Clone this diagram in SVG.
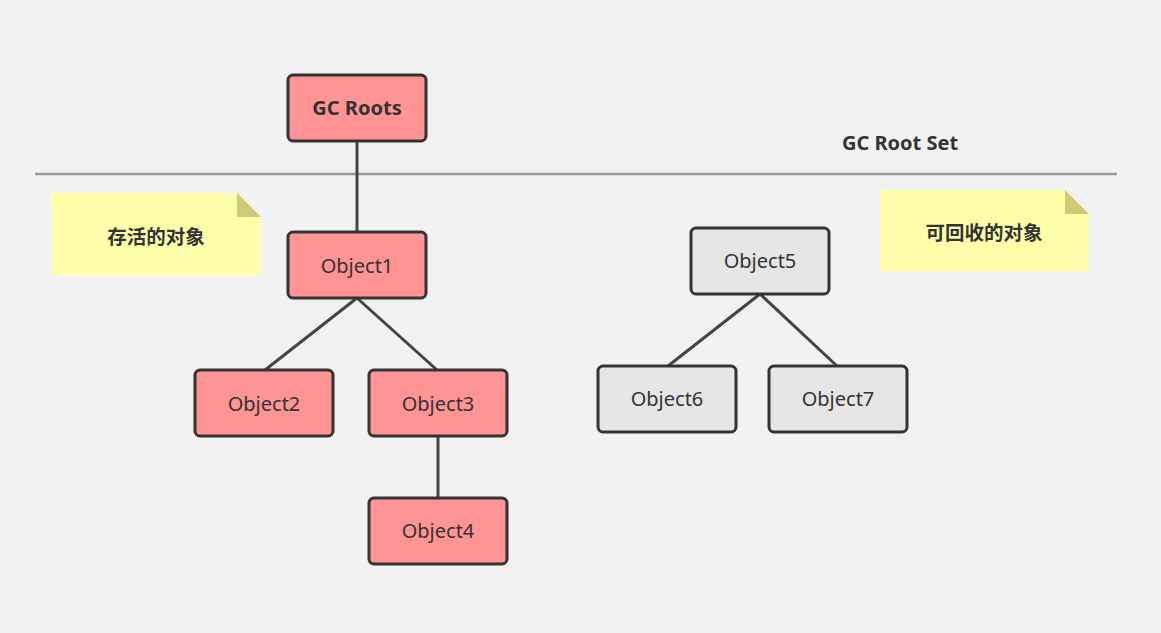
<svg xmlns="http://www.w3.org/2000/svg" width="1161" height="633" viewBox="0 0 1161 633">
<style>
.bg{fill:#f2f2f2}
.n rect{stroke:#333;stroke-width:3}
.live rect{fill:#ff9494}
.dead rect{fill:#e6e6e6}
.t{font-family:"Noto Sans","Noto Sans CJK SC",sans-serif;font-size:20px;fill:#333;text-anchor:middle;dominant-baseline:central}
.b{font-weight:bold}
.cjk{font-size:19.5px}
.note{fill:#ffffaa}
.fold{fill:#cccc77}
.c line{stroke:#444;stroke-width:3}
</style>
<rect class="bg" x="0" y="0" width="1161" height="633"/>
<line x1="35" y1="174" x2="1117" y2="174" stroke="#999" stroke-width="2.5"/>
<text class="t b" x="900" y="142">GC Root Set</text>
<g id="note1">
<polygon class="note" points="52,193 237,193 261,217 261,275 52,275"/>
<polygon class="fold" points="237,193 261,217 237,217"/>
<text class="t b cjk" x="156" y="236">存活的对象</text>
</g>
<g id="note2">
<polygon class="note" points="880,190 1065,190 1089,214 1089,271 880,271"/>
<polygon class="fold" points="1065,190 1089,214 1065,214"/>
<text class="t b cjk" x="984" y="232">可回收的对象</text>
</g>
<g id="connectors" class="c">
<line x1="357" y1="141" x2="357" y2="232"/>
<line x1="357" y1="298" x2="265" y2="370"/>
<line x1="357" y1="298" x2="437" y2="370"/>
<line x1="438" y1="436" x2="438" y2="498"/>
<line x1="760" y1="294" x2="668" y2="366"/>
<line x1="760" y1="294" x2="837" y2="366"/>
</g>
<g id="gcroots" class="n live"><rect x="288" y="75" width="138" height="66" rx="5"/><text class="t b" x="357" y="107">GC Roots</text></g>
<g id="object1" class="n live"><rect x="288" y="232" width="138" height="66" rx="5"/><text class="t" x="357" y="265">Object1</text></g>
<g id="object2" class="n live"><rect x="195" y="370" width="138" height="66" rx="5"/><text class="t" x="264" y="403">Object2</text></g>
<g id="object3" class="n live"><rect x="369" y="370" width="138" height="66" rx="5"/><text class="t" x="438" y="403">Object3</text></g>
<g id="object4" class="n live"><rect x="369" y="498" width="138" height="66" rx="5"/><text class="t" x="438" y="530">Object4</text></g>
<g id="object5" class="n dead"><rect x="691" y="228" width="138" height="66" rx="5"/><text class="t" x="760" y="260">Object5</text></g>
<g id="object6" class="n dead"><rect x="598" y="366" width="138" height="66" rx="5"/><text class="t" x="667" y="398">Object6</text></g>
<g id="object7" class="n dead"><rect x="769" y="366" width="138" height="66" rx="5"/><text class="t" x="838" y="398">Object7</text></g>
</svg>
